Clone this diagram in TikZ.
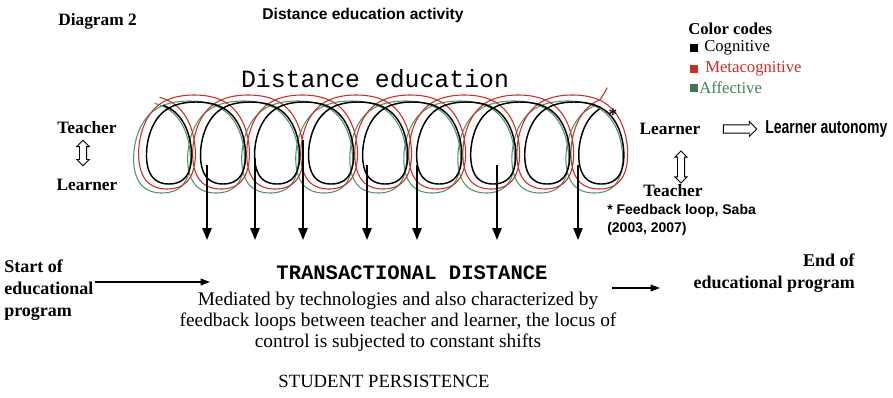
\documentclass[tikz,border=0pt]{standalone}
\usepackage{fontspec}
\setmainfont{Liberation Serif}
\setsansfont{Liberation Sans}
\setmonofont{Liberation Mono}
\usetikzlibrary{arrows.meta,shapes.arrows}
\definecolor{mred}{RGB}{205,45,35}
\definecolor{mgreen}{RGB}{80,150,105}
\begin{document}
\begin{tikzpicture}[x=0.75pt,y=-0.75pt,
  sb/.style={inner sep=0pt, font=\bfseries\fontsize{13}{16.5}\selectfont},
  sr/.style={inner sep=0pt, font=\fontsize{12.5}{14}\selectfont},
  ssb/.style={inner sep=0pt, font=\sffamily\bfseries\fontsize{10.5}{13.5}\selectfont},
  coilk/.style={draw=black, line width=1.1pt, line join=round},
  coilr/.style={draw=mred, line width=0.8pt, line join=round},
  coilg/.style={draw=mgreen, line width=0.8pt, line join=round},
  darr/.style={line width=1.1pt, -{Triangle[length=9pt,width=7pt]}},
  harr/.style={line width=1.1pt, -{Triangle[length=7pt,width=5pt]}},
  udarrow/.style={draw, line width=0.7pt, double arrow, rotate=90, inner sep=2.3pt, double arrow head extend=2pt},
  rtarrow/.style={draw, line width=0.7pt, single arrow, inner sep=2.8pt, single arrow head extend=2.5pt},
  sq/.style={minimum size=5.5pt, inner sep=0pt}
]
\useasboundingbox (0,0) rectangle (893,397);
\fill[white] (0,0) rectangle (893,397);

% titles
\node[sb, anchor=west] (diag) at (58,21) {Diagram 2};
\node[inner sep=0pt, font=\sffamily\bfseries\fontsize{11.7}{14}\selectfont] (title) at (363,15) {Distance education activity};

% legend
\node[sb, anchor=west, font=\bfseries\fontsize{12.5}{14}\selectfont] (cc) at (688,29) {Color codes};
\node[sq, fill=black] (sqk) at (694,48) {};
\node[sr, anchor=west] (cog) at (704,48) {Cognitive};
\node[sq, fill=mred] (sqr) at (694,69) {};
\node[sr, anchor=west, text=mred] (meta) at (705,69) {Metacognitive};
\node[sq, fill=mgreen!80!black] (sqg) at (694,88) {};
\node[sr, anchor=west, text=mgreen!85!black] (aff) at (699,88) {Affective};

% distance education
\node[inner sep=0pt, font=\ttfamily\fontsize{18.6}{20}\selectfont] (de) at (375,79) {Distance education};

% coils
\draw[coilg] plot[domain=0.4:56.0, samples=900, variable=\t] ({135+8.6*\t+41*sin(\t r)},{147-46*(1.15*cos(\t r)-0.2*(cos(\t r))^3)/0.95});
\draw[coilr] plot[domain=0.4:56.0, samples=900, variable=\t] ({140+8.6*\t+41*sin(\t r)},{142-47*(1.15*cos(\t r)-0.2*(cos(\t r))^3)/0.95}) -- ++(5,-8) -- ++(2,-4);
\draw[coilk] plot[domain=0.5:55.85, samples=900, variable=\t] ({142+8.6*\t+35*sin(\t r)},{143-41*(1.15*cos(\t r)-0.2*(cos(\t r))^3)/0.95});

\node[inner sep=0pt, font=\bfseries\fontsize{13}{14}\selectfont] (ast) at (613,115) {*};

% left labels
\node[sb] (t1) at (87,128) {Teacher};
\node[udarrow, minimum height=19pt] (ud1) at (83,153) {};
\node[sb] (l1) at (87,185) {Learner};

% right labels
\node[sb] (l2) at (670,129) {Learner};
\node[rtarrow, minimum height=25pt] (ra) at (738,129) {};
\node[inner sep=0pt, anchor=west, font=\sffamily\bfseries\fontsize{14}{16}\selectfont] (la) at (765,129) {\scalebox{0.75}[1]{Learner autonomy}};
\node[udarrow, minimum height=24pt] (ud2) at (681,167) {};
\node[sb] (t2) at (673,191) {Teacher};
\node[ssb, anchor=west] (fb) at (607,211) {* Feedback loop, Saba};
\node[ssb, anchor=west] (yr) at (607,229) {(2003, 2007)};

% vertical arrows
\foreach \i/\x/\ys in {1/207/165, 2/255/158, 3/303/140, 4/367/165, 5/417/165, 6/497/165, 7/578/165}{
  \coordinate (s\i) at (\x,\ys);
  \coordinate (e\i) at (\x,240);
  \draw[darr] (s\i) -- (e\i);
}

% bottom
\node[sb, anchor=north west, align=left, font=\bfseries\fontsize{13.5}{16.5}\selectfont] (start) at (4,260) {Start of\\educational\\program};
\coordinate (sa) at (95,282);
\coordinate (sb) at (210,282);
\draw[harr] (sa) -- (sb);

\node[inner sep=0pt, font=\ttfamily\bfseries\fontsize{15.4}{17}\selectfont] (td) at (412,273) {TRANSACTIONAL DISTANCE};
\node[inner sep=0pt, align=center, font=\fontsize{14.5}{15.75}\selectfont] (body) at (398,322) {Mediated by technologies and also characterized by\\feedback loops between teacher and learner, the locus of\\control is subjected to constant shifts};
\node[inner sep=0pt, font=\fontsize{14}{16}\selectfont] (sp) at (384,381) {STUDENT PERSISTENCE};

\coordinate (ea) at (612,288);
\coordinate (eb) at (660,288);
\draw[harr] (ea) -- (eb);
\node[sb, anchor=north east, align=right, font=\bfseries\fontsize{13.5}{16}\selectfont] (end) at (855,254) {End of\\educational program};
\end{tikzpicture}
\end{document}
